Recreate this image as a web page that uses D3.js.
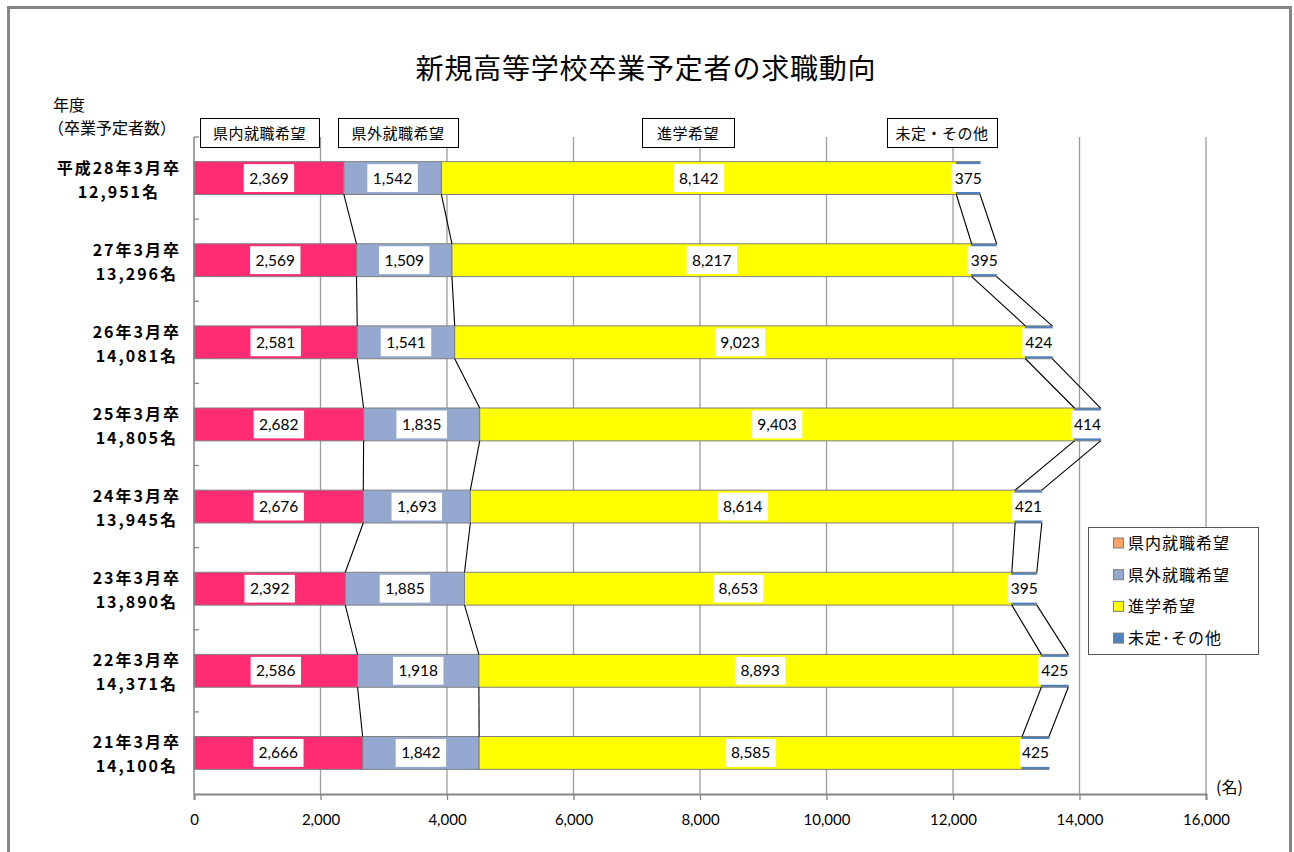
<!DOCTYPE html>
<html><head><meta charset="utf-8">
<script src="https://cdn.jsdelivr.net/npm/d3@7"></script>
<style>
body{margin:0;background:#fff;}
svg{display:block;}
text{font-family:"Noto Sans CJK JP","Noto Sans",sans-serif;}
.num{font-family:Lato,"Open Sans",sans-serif;}
</style></head><body>
<svg id="c" width="1294" height="852"></svg>
<script>
// ---- data ----
const years = ["平成28年3月卒","27年3月卒","26年3月卒","25年3月卒","24年3月卒","23年3月卒","22年3月卒","21年3月卒"];
const totals = ["12,951名","13,296名","14,081名","14,805名","13,945名","13,890名","14,371名","14,100名"];
const kennai = [2369,2569,2581,2682,2676,2392,2586,2666];
const kengai = [1542,1509,1541,1835,1693,1885,1918,1842];
const shingaku = [8142,8217,9023,9403,8614,8653,8893,8585];
const mitei = [375,395,424,414,421,395,425,425];
const seriesNames = ["県内就職希望","県外就職希望","進学希望","未定・その他"];
const legendNames = ["県内就職希望","県外就職希望","進学希望","未定･その他"];
const barColors = ["#FF2C73","#95A8D0","#FFFF00","#4F81BD"];
const legendColors = ["#FAA46C","#95A8D0","#FFFF00","#4F81BD"];
const xTicks = [0,2000,4000,6000,8000,10000,12000,14000,16000];
const title = "新規高等学校卒業予定者の求職動向";
const yAxisTitle = ["年度","（卒業予定者数）"];
const unitLabel = "(名)";

// ---- drawing ----
const svg = d3.select("#c");
const x = d3.scaleLinear().domain([0,16000]).range([194,1206]);
const y = d3.scaleBand().domain(years).range([137,794]).paddingInner(0.6).paddingOuter(0.3);
const bw = y.bandwidth();
const series = [kennai,kengai,shingaku,mitei];
const rows = years.map((yr,i)=>{ let c=0; return series.map((s,k)=>{ const seg={k,v:s[i],x0:c,x1:c+s[i],yr,i}; c+=s[i]; return seg; }); });

// frame
svg.append("rect").attr("x",8.5).attr("y",7.5).attr("width",1282).attr("height",900)
  .attr("fill","none").attr("stroke","#858585").attr("stroke-width",3);

// title
svg.append("text").attr("x",646).attr("y",79).attr("text-anchor","middle")
  .attr("font-size",28).attr("letter-spacing",0.8).attr("fill","#000").text(title);

// gridlines
svg.append("g").selectAll("line").data(xTicks.filter(d=>d>0)).join("line")
  .attr("x1",d=>x(d)).attr("x2",d=>x(d)).attr("y1",137).attr("y2",794)
  .attr("stroke","#9c9c9c").attr("stroke-width",1.3);

// bars
const gBars = svg.append("g");
rows.forEach(r=>{
  gBars.selectAll(null).data(r).join("rect")
    .attr("x",d=>x(d.x0)).attr("y",d=>y(d.yr)).attr("width",d=>x(d.x1)-x(d.x0)).attr("height",bw)
    .attr("fill",d=>barColors[d.k]).attr("stroke","#7f7f7f").attr("stroke-width",1);
});

// series lines
const gSer = svg.append("g");
for(let k=0;k<4;k++){
  for(let i=0;i<years.length-1;i++){
    gSer.append("line")
      .attr("x1",x(rows[i][k].x1)).attr("y1",y(years[i])+bw)
      .attr("x2",x(rows[i+1][k].x1)).attr("y2",y(years[i+1]))
      .attr("stroke","#000").attr("stroke-width",1.1);
  }
}

// data labels
const gLab = svg.append("g");
rows.forEach(r=>{
  r.forEach(d=>{
    const cx = (x(d.x0)+x(d.x1))/2, cy = y(d.yr)+bw/2;
    const g = gLab.append("g");
    const rect = g.append("rect").attr("fill","#fff");
    const t = g.append("text").attr("class","num").attr("x",cx).attr("y",cy+5.5)
      .attr("text-anchor","middle").attr("font-size",15.5).attr("fill","#000")
      .text(d3.format(",")(d.v));
    const w = t.node().getComputedTextLength();
    const pad = d.k===3 ? 3 : 5.5;
    rect.attr("x",cx-w/2-pad).attr("width",w+2*pad).attr("y",y(d.yr)+2.5).attr("height",bw-5);
  });
});

// y axis line & ticks
svg.append("line").attr("x1",194).attr("x2",194).attr("y1",137).attr("y2",794)
  .attr("stroke","#868686").attr("stroke-width",1.5);
svg.append("g").selectAll("line").data(d3.range(years.length)).join("line")
  .attr("x1",194).attr("x2",199)
  .attr("y1",i=>137+i*y.step()).attr("y2",i=>137+i*y.step())
  .attr("stroke","#868686").attr("stroke-width",1.3);

// x axis
const ax = svg.append("g").attr("transform","translate(0,794)")
  .call(d3.axisBottom(x).tickValues(xTicks).tickFormat(d3.format(",")).tickSizeOuter(0).tickSize(6).tickPadding(14));
ax.select(".domain").attr("stroke","#868686").attr("stroke-width",2);
ax.selectAll(".tick line").attr("stroke","#868686").attr("stroke-width",1.3);
ax.selectAll(".tick text").attr("class","num").attr("font-size",15).attr("fill","#000");

// row labels
const gRow = svg.append("g");
years.forEach((yr,i)=>{
  const cy = y(yr)+bw/2;
  const t1 = gRow.append("text").attr("y",cy-4.5).attr("font-size",16).attr("font-weight","bold")
    .attr("letter-spacing",2).attr("fill","#000").attr("text-anchor","middle").text(yr);
  const t2 = gRow.append("text").attr("y",cy+19.5).attr("font-size",16).attr("font-weight","bold")
    .attr("letter-spacing",2).attr("fill","#000").attr("text-anchor","middle").text(totals[i]);
  const w = Math.max(t1.node().getComputedTextLength(), t2.node().getComputedTextLength());
  const c = 181 - w/2;
  t1.attr("x",c); t2.attr("x",c);
});

// axis title (top-left)
svg.append("text").attr("x",53).attr("y",111).attr("font-size",16).attr("fill","#000").text(yAxisTitle[0]);
svg.append("text").attr("x",48).attr("y",134).attr("font-size",16).attr("fill","#000").text(yAxisTitle[1]);

// header boxes
const boxes = [[200,319],[338,458],[642,734],[887,997]];
seriesNames.forEach((n,k)=>{
  const [a,b] = boxes[k];
  svg.append("rect").attr("x",a+0.5).attr("y",118.5).attr("width",b-a).attr("height",29)
    .attr("fill","#fff").attr("stroke","#000").attr("stroke-width",1);
  svg.append("text").attr("x",(a+b)/2).attr("y",139).attr("text-anchor","middle")
    .attr("font-size",15).attr("letter-spacing",0.5).attr("fill","#000").text(n);
});

// unit label
svg.append("text").attr("x",1216).attr("y",793).attr("font-size",16).attr("fill","#000").text(unitLabel);

// legend
svg.append("rect").attr("x",1088.5).attr("y",527.5).attr("width",170).attr("height",127)
  .attr("fill","#fff").attr("stroke","#555").attr("stroke-width",1);
legendNames.forEach((n,k)=>{
  const cy = 543 + k*31.7;
  svg.append("rect").attr("x",1113.5).attr("y",cy-5).attr("width",10).attr("height",10)
    .attr("fill",legendColors[k]).attr("stroke","#7f7f7f").attr("stroke-width",1);
  svg.append("text").attr("x",1128).attr("y",cy+6).attr("font-size",16).attr("letter-spacing",1)
    .attr("fill","#000").text(n);
});
</script>
</body></html>
